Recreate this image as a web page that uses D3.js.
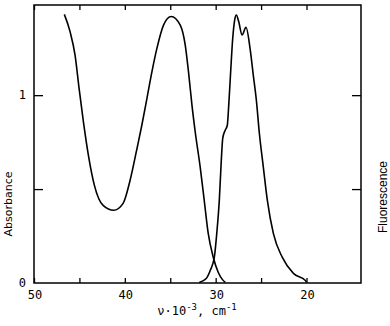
<!DOCTYPE html>
<html>
<head>
<meta charset="utf-8">
<script src="https://cdn.jsdelivr.net/npm/d3@7"></script>
<style>
  body { margin: 0; background: #fff; }
  svg { display: block; }
</style>
</head>
<body>
<script>
// wavenumber (10^3 cm-1) and intensity
var absNu = [46.66, 46.03, 45.48, 45.04, 44.56, 44.01, 43.35, 42.39, 41.23, 40.19, 39.42, 38.70, 38.13, 37.57, 37.02, 36.47, 35.74, 34.90, 33.90, 33.35, 32.99, 32.61, 32.25, 31.70, 31.26, 30.82, 30.26, 29.71, 29.25, 28.94]
var absVal = [1.430, 1.338, 1.213, 1.037, 0.858, 0.680, 0.520, 0.413, 0.387, 0.424, 0.547, 0.707, 0.840, 0.982, 1.124, 1.249, 1.373, 1.419, 1.373, 1.267, 1.124, 0.947, 0.804, 0.616, 0.440, 0.264, 0.136, 0.056, 0.018, 0.003]

var fluNu = [31.81, 31.04, 30.60, 30.15, 29.88, 29.60, 29.38, 29.22, 29.00, 28.72, 28.56, 28.34, 28.12, 27.89, 27.73, 27.45, 27.10, 26.66, 26.19, 25.86, 25.52, 25.19, 24.75, 24.31, 23.65, 22.66, 21.44, 20.12, 20.01]
var fluVal = [0.003, 0.024, 0.067, 0.136, 0.264, 0.440, 0.653, 0.771, 0.808, 0.840, 0.947, 1.133, 1.304, 1.405, 1.427, 1.389, 1.320, 1.361, 1.240, 1.107, 0.973, 0.797, 0.616, 0.440, 0.264, 0.136, 0.051, 0.013, 0.004]

var xTicks = [50, 45, 40, 35, 30, 25, 20]
var xLabels = [50, 40, 30, 20]
var yTicks = [0.5, 1]
var yLabels = [0, 1]

var W = 390, H = 326
var m = {left: 34, right: 29, top: 5, bottom: 43}

var svg = d3.select("body").append("svg")
  .attr("width", W)
  .attr("height", H)

var x = d3.scaleLinear().domain([50, 14]).range([m.left, W - m.right])
var y = d3.scaleLinear().domain([0, 1.48]).range([H - m.bottom, m.top])

var mono = "'DejaVu Sans Mono', monospace"

// frame
svg.append("rect")
  .attr("x", x(50)).attr("y", y(1.48))
  .attr("width", x(14) - x(50))
  .attr("height", y(0) - y(1.48))
  .attr("fill", "none")
  .attr("stroke", "#000")
  .attr("stroke-width", 1.5)

// x ticks, bottom and top, pointing inward
var bottomAxis = d3.axisBottom(x).tickValues(xTicks).tickSizeInner(-5).tickSizeOuter(0).tickFormat("")
var topAxis = d3.axisTop(x).tickValues(xTicks).tickSizeInner(-5).tickSizeOuter(0).tickFormat("")
svg.append("g").attr("transform", `translate(0,${y(0)})`).call(bottomAxis)
svg.append("g").attr("transform", `translate(0,${y(1.48)})`).call(topAxis)

var leftAxis = d3.axisLeft(y).tickValues(yTicks).tickSizeInner(-9).tickSizeOuter(0).tickFormat("")
var rightAxis = d3.axisRight(y).tickValues(yTicks).tickSizeInner(-9).tickSizeOuter(0).tickFormat("")
svg.append("g").attr("transform", `translate(${x(50)},0)`).call(leftAxis)
svg.append("g").attr("transform", `translate(${x(14)},0)`).call(rightAxis)

svg.selectAll(".domain").remove()
svg.selectAll(".tick line").attr("stroke", "#000").attr("stroke-width", 1.3)

// tick labels
svg.selectAll(".xlab").data(xLabels).enter().append("text")
  .attr("x", d => x(d) + 1)
  .attr("y", 299)
  .attr("text-anchor", "middle")
  .style("font-family", mono)
  .style("font-size", "12px")
  .text(d => d)

svg.selectAll(".ylab").data(yLabels).enter().append("text")
  .attr("x", 26)
  .attr("y", d => y(d) + 4)
  .attr("text-anchor", "end")
  .style("font-family", mono)
  .style("font-size", "12px")
  .text(d => d)

// x title
var xt = svg.append("text")
  .attr("x", 197)
  .attr("y", 315)
  .attr("text-anchor", "middle")
  .style("font-family", mono)
  .style("font-size", "12px")
xt.append("tspan").text("ν·10")
xt.append("tspan").attr("dy", -5).style("font-size", "9px").text("-3")
xt.append("tspan").attr("dy", 5).text(", cm")
xt.append("tspan").attr("dy", -5).style("font-size", "9px").text("-1")

svg.append("text")
  .attr("transform", "translate(12,204) rotate(-90)")
  .attr("text-anchor", "middle")
  .style("font-family", "'DejaVu Sans', sans-serif")
  .style("font-size", "11px")
  .text("Absorbance")

svg.append("text")
  .attr("transform", "translate(387,197) rotate(-90)")
  .attr("text-anchor", "middle")
  .style("font-family", "'Liberation Sans', Arial, sans-serif")
  .style("font-size", "12px")
  .text("Fluorescence")

// curves (points are ordered left to right on screen)
var line = d3.line()
  .x(d => x(d[0]))
  .y(d => y(d[1]))
  .curve(d3.curveMonotoneX)

var absData = d3.zip(absNu, absVal)
var fluData = d3.zip(fluNu, fluVal)

svg.append("path")
  .attr("d", line(absData))
  .attr("fill", "none")
  .attr("stroke", "#000")
  .attr("stroke-width", 1.6)

svg.append("path")
  .attr("d", line(fluData))
  .attr("fill", "none")
  .attr("stroke", "#000")
  .attr("stroke-width", 1.6)
</script>
</body>
</html>
